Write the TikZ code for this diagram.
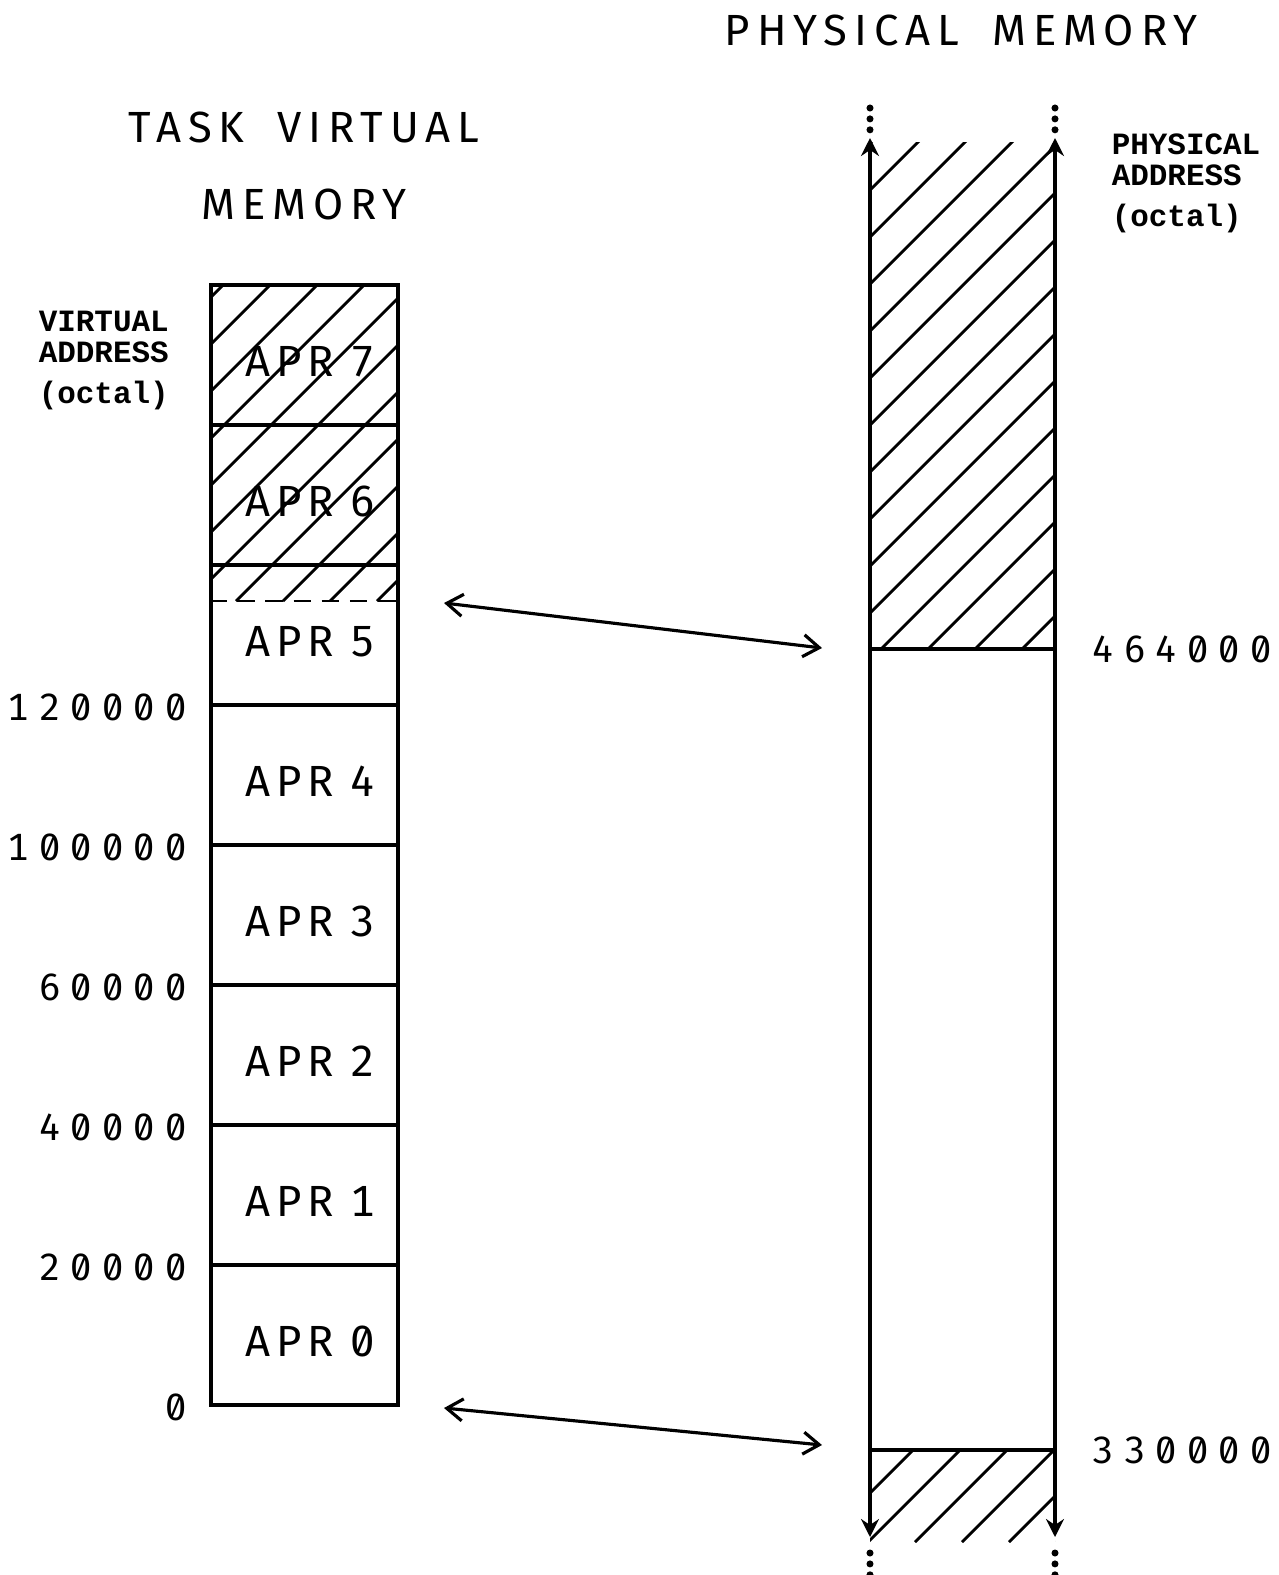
\documentclass[tikz,border=0pt]{standalone}
\usepackage{fontspec}
\newfontfamily\titlefont[LetterSpace=16,Numbers={SlashedZero,Monospaced}]{Fira Sans}
\newfontfamily\aprfont[LetterSpace=14,Numbers={SlashedZero,Monospaced}]{Fira Sans}
\newfontfamily\numfont[LetterSpace=27,Numbers={SlashedZero,Monospaced}]{Fira Sans}
\newfontfamily\typefont{Liberation Mono}
\newcommand{\wordgap}{\hspace{0.75em}}
\newcommand{\aprgap}{\hspace{0.38em}}
\usetikzlibrary{arrows.meta,positioning}

\begin{document}
\begin{tikzpicture}[
  x=0.01cm, y=-0.01cm,
  line width=1pt,
  barb/.style={{Straight Barb[length=0.16cm,width=0.22cm]}-{Straight Barb[length=0.16cm,width=0.22cm]}, line width=0.9pt},
  rail/.style={{Stealth[length=0.18cm,width=0.18cm,inset=0.06cm]}-{Stealth[length=0.18cm,width=0.18cm,inset=0.06cm]}, line width=1.1pt},
  hatch/.style={line width=0.8pt},
  dots/.style={line width=2pt, line cap=round, dash pattern=on 0pt off 3.1pt},
  cell/.style={draw, minimum width=1.87cm, minimum height=1.40cm, inner sep=0pt,
    font=\aprfont\fontsize{12.4}{14}\selectfont, text height=0.42cm, text depth=0pt},
  title/.style={inner sep=0pt, font=\titlefont\fontsize{12.4}{14}\selectfont},
  addr/.style={inner sep=0pt, font=\numfont\fontsize{10.8}{12}\selectfont, text depth=0pt},
  note/.style={inner sep=0pt, align=left, font=\typefont\bfseries\fontsize{8.8}{8.8}\selectfont},
]
\useasboundingbox (0,0) rectangle (1278,1575);

% Titles
\node[title] (ptitle) at (961,30) {PHYSICAL\wordgap MEMORY};
\node[title] (vtitle) at (304,127) {TASK\wordgap VIRTUAL};
\node[title, below=0.43cm of vtitle] (vtitle2) {MEMORY};
\node[note, anchor=north west] (vnote) at (37,309) {VIRTUAL\\ADDRESS\\[0.1cm](octal)};
\node[note, anchor=north west] (pnote) at (1110,132) {PHYSICAL\\ADDRESS\\[0.1cm](octal)};

% Hatched part of the task space (APR 7, APR 6, top of APR 5)
\begin{scope}
  \clip (211,285) rectangle (398,601);
  \foreach \x in {-140,-93,...,400}
    \draw[hatch] (\x,601) -- ++(400,-400);
\end{scope}

% APR pages
\foreach \i in {0,...,7}
  \node[cell] (apr\i) at (304.5,{1335-140*\i}) {\hspace{0.25em}APR\aprgap\i};
\draw[line width=0.7pt, dash pattern=on 5pt off 3pt] (apr5.west |- 0,601) -- (apr5.east |- 0,601);

% Virtual addresses
\node[addr, left=0.21cm of apr0.south west] (v0) {0};
\node[addr, left=0.21cm of apr1.south west] (v1) {20000};
\node[addr, left=0.21cm of apr2.south west] (v2) {40000};
\node[addr, left=0.21cm of apr3.south west] (v3) {60000};
\node[addr, left=0.21cm of apr4.south west] (v4) {100000};
\node[addr, left=0.21cm of apr5.south west] (v5) {120000};

% Physical memory rails
\coordinate (pltop) at (870,138);
\coordinate (plbot) at (870,1537);
\coordinate (prtop) at (1055,138);
\coordinate (prbot) at (1055,1537);
\begin{scope}
  \clip (870,142) rectangle (1055,649);
  \foreach \x in {-200,-153,...,1100}
    \draw[hatch] (\x,649) -- ++(600,-600);
\end{scope}
\begin{scope}
  \clip (870,1450) rectangle (1055,1542);
  \foreach \x in {774,821,...,1100}
    \draw[hatch] (\x,1542) -- ++(300,-300);
\end{scope}
\draw[rail] (plbot) -- (pltop);
\draw[rail] (prbot) -- (prtop);
\draw[dots] (870,108) -- (870,131);
\draw[dots] (1055,108) -- (1055,131);
\draw[dots] (870,1553) -- (870,1576);
\draw[dots] (1055,1553) -- (1055,1576);

% Physical boundaries
\coordinate (p464l) at (870,649);
\coordinate (p464r) at (1055,649);
\coordinate (p330l) at (870,1450);
\coordinate (p330r) at (1055,1450);
\draw (p464l) -- (p464r);
\draw (p330l) -- (p330r);
\node[addr, right=0.36cm of p464r] (p464) {464000};
\node[addr, right=0.36cm of p330r] (p330) {330000};

% Mapping arrows
\coordinate (mtopv) at (444,603);
\coordinate (mtopp) at (822,648);
\coordinate (mbotv) at (444,1408);
\coordinate (mbotp) at (822,1445);
\draw[barb] (mtopv) -- (mtopp);
\draw[barb] (mbotv) -- (mbotp);
\end{tikzpicture}
\end{document}
